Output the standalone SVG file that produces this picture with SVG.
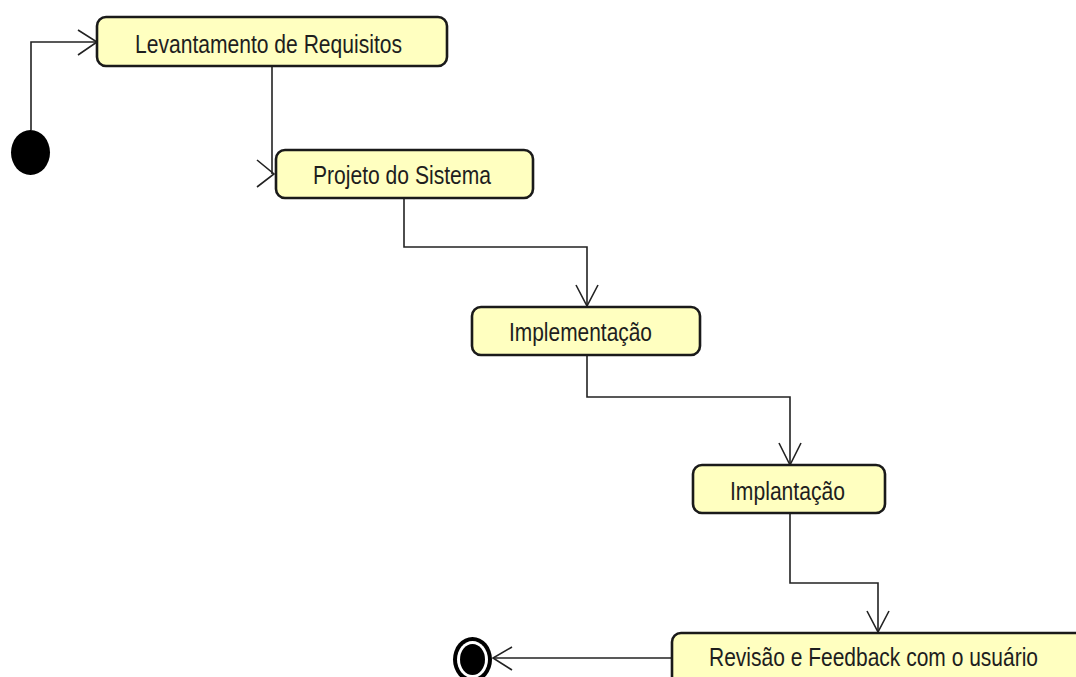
<svg xmlns="http://www.w3.org/2000/svg" width="1076" height="677" viewBox="0 0 1076 677">
<style>
.box{fill:#ffffc0;stroke:#1a1a1a;stroke-width:2.6}
.lbl{font-family:"Liberation Sans",Arial,sans-serif;font-size:25px;fill:#1e1e1e}
.c{fill:none;stroke:#222;stroke-width:1.6}
</style>
<rect width="1076" height="677" fill="#ffffff"/>
<g id="connectors">
<polyline class="c" points="31,130 31,42 97,42"/>
<polyline class="c" points="78,30 97,42 78,55"/>
<polyline class="c" points="272,66 272,174"/>
<polyline class="c" points="257,160 274,174 257,187"/>
<polyline class="c" points="404,198 404,247 587,247 587,306"/>
<polyline class="c" points="576,285 587,306 598,285"/>
<polyline class="c" points="587,355 587,397 790,397 790,465"/>
<polyline class="c" points="779,443 790,465 801,443"/>
<polyline class="c" points="790,513 790,583 878,583 878,632"/>
<polyline class="c" points="867,611 878,632 889,611"/>
<polyline class="c" points="672,658 493,658"/>
<polyline class="c" points="512,647 493,658 512,670"/>
</g>
<g id="start">
<ellipse cx="30.5" cy="152.5" rx="19.5" ry="22.5" fill="#000"/>
</g>
<g id="n1">
<rect class="box" x="97" y="17" width="350" height="49" rx="9"/>
<text class="lbl" x="135" y="53" textLength="267" lengthAdjust="spacingAndGlyphs">Levantamento de Requisitos</text>
</g>
<g id="n2">
<rect class="box" x="276" y="150" width="257" height="48" rx="9"/>
<text class="lbl" x="313" y="184" textLength="178" lengthAdjust="spacingAndGlyphs">Projeto do Sistema</text>
</g>
<g id="n3">
<rect class="box" x="472" y="307" width="228" height="48" rx="9"/>
<text class="lbl" x="509" y="341" textLength="143" lengthAdjust="spacingAndGlyphs">Implementação</text>
</g>
<g id="n4">
<rect class="box" x="693" y="465" width="192" height="48" rx="9"/>
<text class="lbl" x="730" y="500" textLength="115" lengthAdjust="spacingAndGlyphs">Implantação</text>
</g>
<g id="n5">
<rect class="box" x="672" y="633" width="430" height="52" rx="9"/>
<text class="lbl" x="709" y="666" textLength="329" lengthAdjust="spacingAndGlyphs">Revisão e Feedback com o usuário</text>
</g>
<g id="end">
<ellipse cx="472.5" cy="659.5" rx="19.5" ry="22.5" fill="#000"/>
<ellipse cx="472.5" cy="659.5" rx="15.5" ry="18.5" fill="#fff"/>
<ellipse cx="472.5" cy="659.5" rx="12.5" ry="15.5" fill="#000"/>
</g>
</svg>
